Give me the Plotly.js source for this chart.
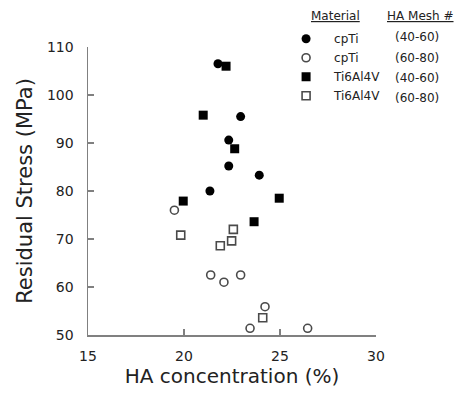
<!DOCTYPE html>
<html>
<head>
<meta charset="utf-8">
<script src="https://cdn.plot.ly/plotly-3.0.1.min.js"></script>
<style>html,body{margin:0;padding:0;background:#fff;}#chart{width:456px;height:395px;}</style>
</head>
<body>
<div id="chart"></div>
<script>
// cpTi, HA mesh 40-60 (filled circles)
const cpTi4060_x = [21.77, 22.95, 22.33, 22.33, 23.92, 21.35];
const cpTi4060_y = [106.5, 95.5, 90.6, 85.2, 83.3, 80.0];
// cpTi, HA mesh 60-80 (open circles)
const cpTi6080_x = [19.5, 21.39, 22.08, 22.95, 24.22, 23.44, 26.44];
const cpTi6080_y = [76.0, 62.5, 61.0, 62.5, 55.9, 51.4, 51.4];
// Ti6Al4V, HA mesh 40-60 (filled squares)
const ti4060_x = [22.19, 21.0, 22.64, 19.96, 24.96, 23.65];
const ti4060_y = [106.0, 95.8, 88.8, 77.9, 78.5, 73.6];
// Ti6Al4V, HA mesh 60-80 (open squares)
const ti6080_x = [19.83, 22.57, 22.48, 21.89, 24.1];
const ti6080_y = [70.8, 72.0, 69.6, 68.6, 53.6];

const materials = ["cpTi", "cpTi", "Ti6Al4V", "Ti6Al4V"];
const meshes = ["(40-60)", "(60-80)", "(40-60)", "(60-80)"];
const xTicks = [15, 20, 25, 30];
const yTicks = [50, 60, 70, 80, 90, 100, 110];

const FONT = "DejaVu Sans, Arial, sans-serif";
const TXT = "#222";
const AX = "#808080";

const traces = [
  {x: cpTi4060_x, y: cpTi4060_y, name: materials[0], mode: "markers", type: "scatter",
   marker: {symbol: "circle", size: 9, color: "#000"}},
  {x: cpTi6080_x, y: cpTi6080_y, name: materials[1], mode: "markers", type: "scatter",
   marker: {symbol: "circle-open", size: 8, color: "#4a4a4a", line: {width: 1.6, color: "#4a4a4a"}}},
  {x: ti4060_x, y: ti4060_y, name: materials[2], mode: "markers", type: "scatter",
   marker: {symbol: "square", size: 9, color: "#000"}},
  {x: ti6080_x, y: ti6080_y, name: materials[3], mode: "markers", type: "scatter",
   marker: {symbol: "square-open", size: 8, color: "#4a4a4a", line: {width: 1.6, color: "#4a4a4a"}}}
];
traces.forEach(t => { t.cliponaxis = false; });

const rowY = [1.035, 0.962, 0.892, 0.823];
const annotations = meshes.map((m, i) => ({
  xref: "paper", yref: "paper", x: 1.142, y: rowY[i], text: m, showarrow: false,
  xanchor: "center", yanchor: "middle", font: {family: FONT, size: 12, color: TXT}
}));
annotations.push({xref: "paper", yref: "paper", x: 0.861, y: 1.108, showarrow: false,
  text: "<span style='text-decoration:underline'>Material</span>",
  xanchor: "center", yanchor: "middle", font: {family: FONT, size: 12, color: TXT}});
annotations.push({xref: "paper", yref: "paper", x: 1.153, y: 1.108, showarrow: false,
  text: "<span style='text-decoration:underline'>HA Mesh #</span>",
  xanchor: "center", yanchor: "middle", font: {family: FONT, size: 12, color: TXT}});

const layout = {
  width: 456, height: 395,
  margin: {l: 88, r: 80, t: 47, b: 60},
  paper_bgcolor: "#fff", plot_bgcolor: "#fff",
  showlegend: true,
  legend: {x: 0.660, y: 1.079, xanchor: "left", yanchor: "top", bgcolor: "rgba(0,0,0,0)",
    itemwidth: 46,
    font: {family: FONT, size: 12, color: TXT}, tracegroupgap: 0},
  xaxis: {range: [15, 30], tickvals: xTicks, ticktext: xTicks.map(String),
    showline: true, linecolor: AX, linewidth: 1.5, ticks: "inside", ticklen: 6, tickwidth: 1.5, tickcolor: AX,
    showgrid: false, zeroline: false, ticklabelstandoff: 8,
    tickfont: {family: FONT, size: 14, color: TXT},
    title: {text: "HA concentration (%)", font: {family: FONT, size: 20, color: TXT}, standoff: 2}},
  yaxis: {range: [50, 110], tickvals: yTicks, ticktext: yTicks.map(String),
    showline: true, linecolor: AX, linewidth: 1.5, ticks: "inside", ticklen: 6, tickwidth: 1.5, tickcolor: AX,
    showgrid: false, zeroline: false, ticklabelstandoff: 10,
    tickfont: {family: FONT, size: 14, color: TXT},
    title: {text: "Residual Stress (MPa)", font: {family: FONT, size: 21, color: TXT}, standoff: 8}},
  annotations: annotations
};

Plotly.newPlot("chart", traces, layout, {staticPlot: true, displayModeBar: false});
</script>
</body>
</html>
